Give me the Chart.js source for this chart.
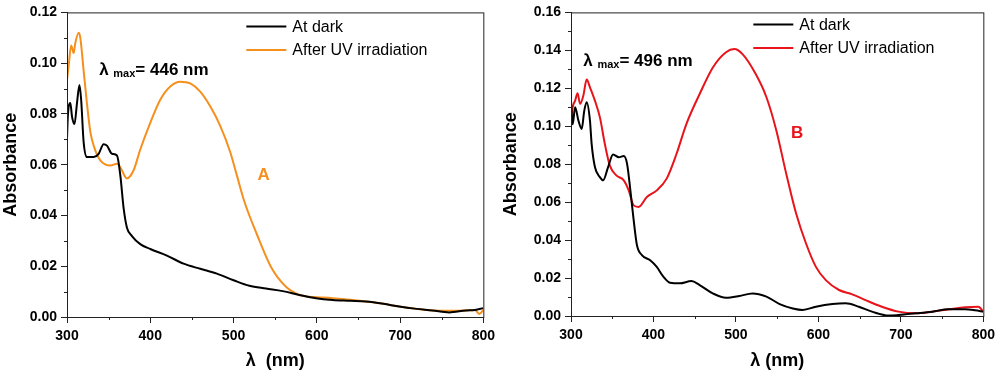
<!DOCTYPE html>
<html>
<head>
<meta charset="utf-8">
<script src="https://cdn.jsdelivr.net/npm/chart.js@4.4.0/dist/chart.umd.min.js"></script>
<style>
  body { margin: 0; background: #fff; }
  .wrap { display: flex; width: 1000px; height: 372px; }
  canvas { display: block; }
</style>
</head>
<body>
<div class="wrap">
  <canvas id="chartA" width="500" height="372"></canvas>
  <canvas id="chartB" width="500" height="372"></canvas>
</div>
<script>
// panel A
const darkA_nm = [300,301,304,306,309,312,315,317,320,324,332,338,344,348,354,360,364,368,372,378,388,400,420,440,460,480,500,519,539,559,579,599,619,640,659,680,699,720,739,759,779,790,800];
const darkA_abs = [0.070,0.079,0.0843,0.079,0.076,0.0843,0.0914,0.0856,0.0688,0.063,0.063,0.0643,0.0681,0.0675,0.0643,0.0636,0.0559,0.0429,0.0352,0.0319,0.0287,0.0268,0.0242,0.021,0.019,0.0171,0.0145,0.0123,0.0112,0.0102,0.0087,0.0074,0.0067,0.0064,0.0061,0.0052,0.0041,0.0032,0.0026,0.0018,0.0026,0.0028,0.0035];
const uvA_nm = [300,302,305,308,310,314,316,320,324,328,332,340,352,360,364,372,380,388,400,412,424,436,448,460,472,484,496,504,513,528,545,563,579,591,600,619,640,659,680,699,720,739,760,779,790,795,800];
const uvA_abs = [0.0934,0.099,0.107,0.104,0.108,0.112,0.110,0.097,0.084,0.073,0.0675,0.0617,0.0597,0.0604,0.059,0.0546,0.0578,0.066,0.0765,0.0856,0.0908,0.0927,0.092,0.0888,0.083,0.0753,0.065,0.0558,0.0455,0.0326,0.0197,0.0119,0.0087,0.008,0.0078,0.0074,0.0068,0.0061,0.0052,0.0041,0.0032,0.0026,0.0025,0.0026,0.0028,0.0012,0.0028];

// panel B
const darkB_nm = [300,302,305,309,313,316,319,323,325,329,335,339,345,351,358,364,368,372,376,380,386,396,404,412,420,432,446,456,472,488,504,520,537,553,569,581,597,617,633,649,665,685,697,718,738,758,778,790,800];
const darkB_abs = [0.1135,0.101,0.110,0.103,0.0986,0.108,0.1127,0.103,0.0908,0.0785,0.0732,0.0715,0.0785,0.0851,0.0837,0.0843,0.0802,0.0662,0.0505,0.0373,0.0321,0.0294,0.0259,0.0207,0.0175,0.0172,0.0184,0.0163,0.0119,0.0096,0.0105,0.0119,0.0102,0.0063,0.004,0.0032,0.0049,0.0063,0.0067,0.0049,0.0023,0.0002,0.0005,0.0014,0.0023,0.0035,0.0035,0.0030,0.0023];
const uvB_nm = [300,302,305,308,311,315,319,323,329,335,341,347,355,364,370,376,382,392,404,416,428,440,456,472,488,498,508,524,537,549,561,573,585,597,609,625,641,657,677,697,718,738,758,778,794,800];
const uvB_abs = [0.103,0.110,0.1135,0.1174,0.1118,0.1162,0.1246,0.1205,0.1135,0.1048,0.0908,0.0794,0.0741,0.0715,0.0662,0.0583,0.0575,0.0627,0.0662,0.0724,0.0855,0.1013,0.117,0.131,0.139,0.1407,0.138,0.1275,0.1153,0.0978,0.075,0.054,0.0382,0.0259,0.0189,0.0137,0.0114,0.0084,0.0049,0.0023,0.0014,0.0023,0.0035,0.0046,0.0049,0.0023];

const yTicksA = [0, 0.12, 0.02];
const yTicksB = [0, 0.16, 0.02];
const xTicks = [300, 800, 100];

const FONT = 'Arial, "Liberation Sans", sans-serif';
const ORANGE = '#f5901e';
const RED = '#e8141b';

function toPoints(xs, ys) {
  return xs.map((x, i) => ({ x: x, y: ys[i] }));
}

// frame + minor ticks
const framePlugin = {
  id: 'frame',
  afterDraw(chart) {
    const { ctx, chartArea: a, scales } = chart;
    ctx.save();
    ctx.strokeStyle = '#222';
    ctx.lineWidth = 1;
    ctx.strokeRect(a.left + 0.5, a.top + 0.5, a.right - a.left, a.bottom - a.top);
    ctx.beginPath();
    const xs = scales.x, ys = scales.y;
    for (let v = xs.min + 50; v < xs.max; v += 100) {
      const px = Math.round(xs.getPixelForValue(v)) + 0.5;
      ctx.moveTo(px, a.bottom);
      ctx.lineTo(px, a.bottom + 3);
    }
    for (let v = ys.min + 0.01; v < ys.max; v += 0.02) {
      const py = Math.round(ys.getPixelForValue(v)) + 0.5;
      ctx.moveTo(a.left, py);
      ctx.lineTo(a.left - 3, py);
    }
    ctx.stroke();
    ctx.restore();
  }
};

// legend + labels
const notesPlugin = {
  id: 'notes',
  afterDraw(chart, args, opts) {
    const { ctx, chartArea: a, scales } = chart;
    ctx.save();
    ctx.textBaseline = 'middle';
    ctx.font = '16px ' + FONT;
    opts.legend.forEach((item, i) => {
      const y = a.top + opts.legendTop + i * 23.5;
      ctx.strokeStyle = item.color;
      ctx.lineWidth = 2;
      ctx.beginPath();
      ctx.moveTo(a.right + opts.legendX, y);
      ctx.lineTo(a.right + opts.legendX + 40, y);
      ctx.stroke();
      ctx.fillStyle = '#000';
      ctx.fillText(item.text, a.right + opts.legendX + 46, y + 1);
    });

    ctx.textBaseline = 'alphabetic';
    let x = scales.x.getPixelForValue(opts.lambda.x);
    const y = scales.y.getPixelForValue(opts.lambda.y);
    ctx.fillStyle = '#000';
    ctx.font = 'bold 17px ' + FONT;
    ctx.fillText('λ', x, y);
    x += ctx.measureText('λ ').width;
    ctx.font = 'bold 11px ' + FONT;
    ctx.fillText('max', x, y + 2);
    x += ctx.measureText('max').width;
    ctx.font = 'bold 17px ' + FONT;
    ctx.fillText(opts.lambda.text, x, y);

    ctx.fillStyle = opts.tag.color;
    ctx.font = 'bold 17px ' + FONT;
    ctx.fillText(opts.tag.text, scales.x.getPixelForValue(opts.tag.x), scales.y.getPixelForValue(opts.tag.y));
    ctx.restore();
  }
};

function makeChart(id, cfg) {
  const ctx = document.getElementById(id).getContext('2d');
  return new Chart(ctx, {
    type: 'line',
    data: {
      datasets: [
        { label: 'At dark', data: toPoints(cfg.darkX, cfg.darkY), borderColor: '#000', borderWidth: 2, pointRadius: 0, cubicInterpolationMode: 'monotone' },
        { label: 'After UV irradiation', data: toPoints(cfg.uvX, cfg.uvY), borderColor: cfg.color, borderWidth: 2, pointRadius: 0, cubicInterpolationMode: 'monotone' },
      ],
    },
    plugins: [framePlugin, notesPlugin],
    options: {
      responsive: false,
      animation: false,
      layout: { padding: cfg.padding },
      plugins: {
        legend: { display: false },
        tooltip: { enabled: false },
        notes: cfg.notes,
      },
      scales: {
        x: {
          type: 'linear',
          min: xTicks[0], max: xTicks[1],
          ticks: { stepSize: xTicks[2], color: '#000', font: { family: FONT, size: 14, weight: 'bold' }, padding: 5, maxRotation: 0 },
          grid: { drawOnChartArea: false, tickLength: 6, color: '#222' },
          border: { color: '#222' },
          title: { display: true, text: cfg.xTitle, color: '#000', font: { family: FONT, size: 18, weight: 'bold' }, padding: 0 },
          afterFit: s => { s.height = cfg.xHeight; },
        },
        y: {
          min: cfg.yTicks[0], max: cfg.yTicks[1],
          ticks: { stepSize: cfg.yTicks[2], color: '#000', font: { family: FONT, size: 14, weight: 'bold' }, padding: 4, callback: v => v.toFixed(2) },
          grid: { drawOnChartArea: false, tickLength: 6, color: '#222' },
          border: { color: '#222' },
          title: { display: true, text: 'Absorbance', color: '#000', font: { family: FONT, size: 18, weight: 'bold' }, padding: 0 },
          afterFit: s => { s.width = cfg.yWidth; },
        },
      },
    },
  });
}

makeChart('chartA', {
  darkX: darkA_nm, darkY: darkA_abs, uvX: uvA_nm, uvY: uvA_abs, color: ORANGE,
  yTicks: yTicksA, xTitle: 'λ  (nm)',
  padding: { left: 0, right: 16, top: 8, bottom: 0 }, yWidth: 67, xHeight: 55,
  notes: {
    legend: [{ text: 'At dark', color: '#000' }, { text: 'After UV irradiation', color: ORANGE }],
    legendX: -237, legendTop: 14,
    lambda: { x: 338.6, y: 0.0955, text: '= 446 nm' },
    tag: { text: 'A', color: ORANGE, x: 528.8, y: 0.054 },
  },
});

makeChart('chartB', {
  darkX: darkB_nm, darkY: darkB_abs, uvX: uvB_nm, uvY: uvB_abs, color: RED,
  yTicks: yTicksB, xTitle: 'λ (nm)',
  padding: { left: 0, right: 15, top: 12, bottom: 0 }, yWidth: 71, xHeight: 56,
  notes: {
    legend: [{ text: 'At dark', color: '#000' }, { text: 'After UV irradiation', color: RED }],
    legendX: -230, legendTop: 12,
    lambda: { x: 314.8, y: 0.132, text: '= 496 nm' },
    tag: { text: 'B', color: RED, x: 566.8, y: 0.0936 },
  },
});
</script>
</body>
</html>
